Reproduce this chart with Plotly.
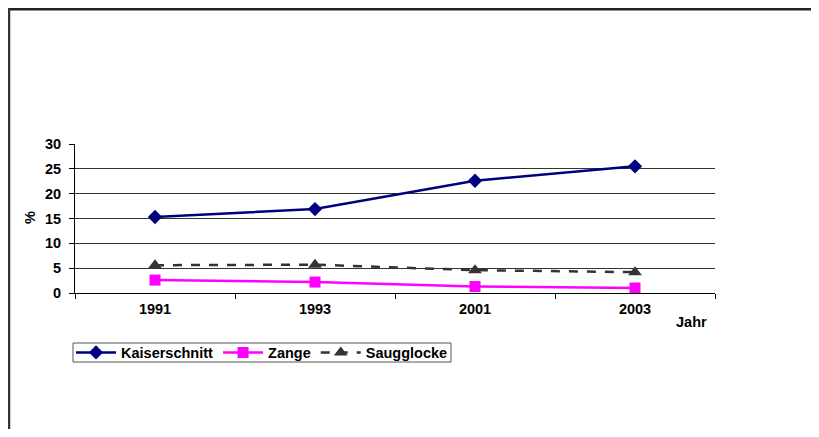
import plotly.graph_objects as go

years = ["1991", "1993", "2001", "2003"]
kaiserschnitt = [15.3, 16.9, 22.6, 25.5]
zange = [2.6, 2.2, 1.3, 1.0]
saugglocke = [5.6, 5.7, 4.6, 4.2]
y_ticks = [0, 5, 10, 15, 20, 25, 30]

OFF = 8  # page body margin offset
W, H = 819 - 2 * OFF, 437 - 2 * OFF
# desired page-pixel positions of the plot area
L, R, T, B = 75, 715, 144, 293

FS = 14.5
font = dict(family="Liberation Sans, Arial, sans-serif", size=FS, color="black")

fig = go.Figure()
fig.add_trace(go.Scatter(x=years, y=kaiserschnitt, name="<b>Kaiserschnitt</b>", mode="lines+markers",
                         line=dict(color="#000080", width=2.5),
                         marker=dict(symbol="diamond", size=11, color="#000080")))
fig.add_trace(go.Scatter(x=years, y=zange, name="<b>Zange</b>", mode="lines+markers",
                         line=dict(color="#FF00FF", width=2.5),
                         marker=dict(symbol="square", size=11, color="#FF00FF")))
fig.add_trace(go.Scatter(x=years, y=saugglocke, name="<b>Saugglocke</b>", mode="lines+markers",
                         line=dict(color="#333333", width=2.5, dash="dash"),
                         marker=dict(symbol="triangle-up", size=12, color="#333333")))

ph = B - T
pw = R - L
def py(pix):
    return (B - pix) / ph
def px(pix):
    return (pix - L) / pw

shapes = [
    dict(type="line", xref="paper", yref="paper", x0=px(8), x1=px(811), y0=py(9), y1=py(9),
         line=dict(color="#222222", width=3)),
    dict(type="line", xref="paper", yref="paper", x0=px(9), x1=px(9), y0=py(8), y1=py(429),
         line=dict(color="#333333", width=2.5)),
    dict(type="rect", xref="paper", yref="paper", x0=px(73), x1=px(451), y0=py(343), y1=py(362),
         line=dict(color="#555555", width=1)),
]

fig.update_layout(
    width=W, height=H,
    margin=dict(l=L - OFF, r=W - (R - OFF), t=T - OFF, b=H - (B - OFF)),
    paper_bgcolor="white", plot_bgcolor="white",
    font=font,
    showlegend=True,
    legend=dict(orientation="h", x=px(71), y=py(352.5), xanchor="left", yanchor="middle",
                borderwidth=0, bgcolor="rgba(0,0,0,0)", font=dict(size=FS),
                itemwidth=40, tracegroupgap=0),
    xaxis=dict(type="category", range=[-0.5, 3.5], showgrid=False, showline=True,
               linecolor="black", linewidth=1, ticks="outside", tickson="boundaries",
               ticklen=5, tickcolor="black", tickfont=dict(size=FS),
               ticklabelstandoff=3,
               tickvals=years, ticktext=["<b>%s</b>" % y for y in years], zeroline=False,
               fixedrange=True),
    yaxis=dict(range=[0, 30], tickvals=y_ticks, ticktext=["<b>%d</b>" % v for v in y_ticks],
               showgrid=True, gridcolor="#333333", gridwidth=1, showline=True,
               linecolor="black", linewidth=1, ticks="outside", ticklen=5, tickcolor="black",
               ticklabelstandoff=5,
               zeroline=False, tickfont=dict(size=FS)),
    shapes=shapes,
    annotations=[
        dict(text="<b>Jahr</b>", xref="paper", yref="paper", x=px(691), y=py(322),
             xanchor="center", yanchor="middle", showarrow=False, font=dict(size=FS)),
        dict(text="<b>%</b>", xref="paper", yref="paper", x=px(30), y=py(218),
             xanchor="center", yanchor="middle",
             showarrow=False, textangle=-90, font=dict(size=FS)),
    ],
)

fig.write_html("out.html", config={"displayModeBar": False})
